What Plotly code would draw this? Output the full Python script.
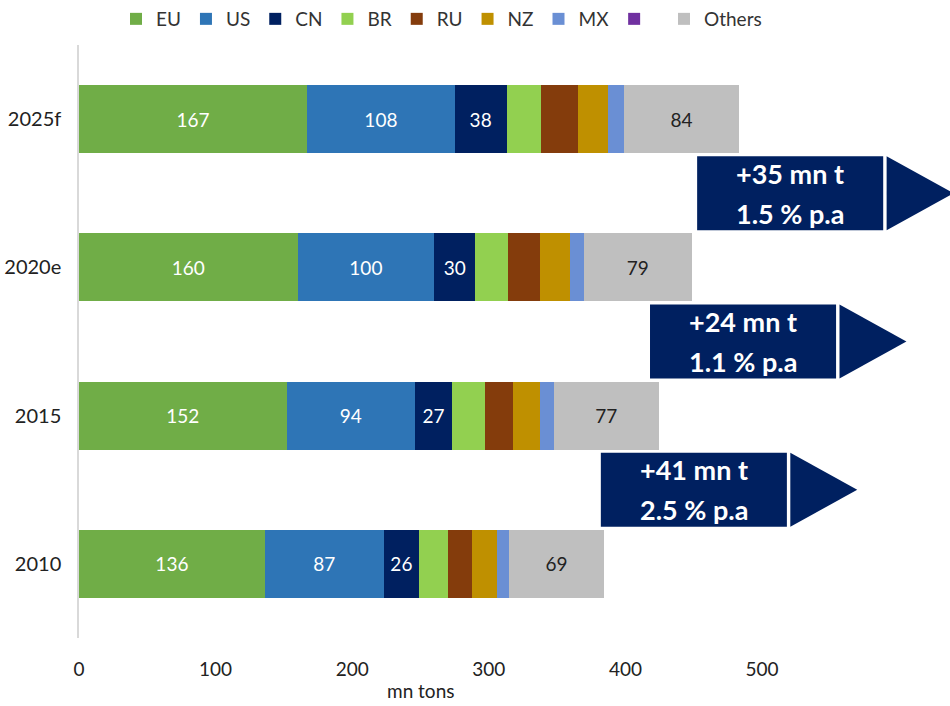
import plotly.graph_objects as go

years = ["2010", "2015", "2020e", "2025f"]
series_names = ["EU", "US", "CN", "BR", "RU", "NZ", "MX", " ", "Others"]
eu = [136, 152, 160, 167]
us = [87, 94, 100, 108]
cn = [26, 27, 30, 38]
br = [21, 24, 24, 25]
ru = [18, 20.5, 23.5, 27]
nz = [18, 20, 22, 22]
mx = [9, 10, 10, 12]
purple = [0, 0, 0, 0]
others = [69, 77, 79, 84]
labelled = {"EU", "US", "CN", "Others"}

growth_line1 = ["+41 mn t", "+24 mn t", "+35 mn t"]
growth_line2 = ["2.5 % p.a", "1.1 % p.a", "1.5 % p.a"]
growth_box_x0 = [382, 418, 452.5]   # left edge of each box (data units)
growth_pos = [0.5, 1.5, 2.5]          # between categories

colors = ["#70AD47", "#2E75B6", "#002060", "#92D050", "#843C0C", "#BF9000", "#6A8FD4", "#7030A0", "#BFBFBF"]
values = [eu, us, cn, br, ru, nz, mx, purple, others]
FONT = "Lato, 'Open Sans', sans-serif"

fig = go.Figure()
for name, vals, col in zip(series_names, values, colors):
    show = name in labelled
    fig.add_trace(go.Bar(
        y=years, x=vals, name=name, orientation="h",
        marker=dict(color=col, line=dict(width=0)),
        text=[f"{v:g}" for v in vals] if show else None,
        textposition="inside" if show else "none",
        insidetextanchor="middle", textangle=0,
        textfont=dict(size=19, color="#222222" if name == "Others" else "white", family=FONT),
        hoverinfo="x+name",
    ))

NAVY = "#002060"
box_w, tri_gap, tri_w, half_h = 136.2, 2.5, 49, 0.25
for l1, l2, x0, yc in zip(growth_line1, growth_line2, growth_box_x0, growth_pos):
    fig.add_shape(type="rect", xref="x", yref="y", x0=x0, x1=x0 + box_w,
                  y0=yc - half_h, y1=yc + half_h, fillcolor=NAVY, line=dict(width=0), layer="above")
    tx0 = x0 + box_w + tri_gap
    fig.add_shape(type="path", xref="x", yref="y",
                  path=f"M {tx0} {yc - half_h} L {tx0 + tri_w} {yc} L {tx0} {yc + half_h} Z",
                  fillcolor=NAVY, line=dict(width=0), layer="above")
    for txt, shift in ((l1, 20), (l2, -20)):
        fig.add_annotation(x=x0 + box_w / 2, y=yc, xref="x", yref="y", yshift=shift,
                           text=f"<b>{txt}</b>", showarrow=False,
                           font=dict(size=27, color="white", family=FONT))

fig.add_annotation(x=250, y=-0.5, xref="x", yref="y", yshift=-52, text="mn tons",
                   showarrow=False, font=dict(size=19, color="#222222", family=FONT))

fig.update_layout(
    barmode="stack", bargap=0.54,
    width=950, height=706,
    margin=dict(l=79, r=0, t=45, b=68),
    plot_bgcolor="white", paper_bgcolor="white",
    font=dict(family=FONT, size=19, color="#222222"),
    legend=dict(orientation="h", x=116 / 950, xanchor="left", y=1.0, yanchor="top",
                xref="container", yref="container", font=dict(size=19, color="#333333", family=FONT),
                traceorder="normal", tracegroupgap=0, itemwidth=30,
                bgcolor="rgba(0,0,0,0)"),
    xaxis=dict(range=[0, 637.6], tickvals=[0, 100, 200, 300, 400, 500], showgrid=False,
               zeroline=False, showline=False, ticks="outside", ticklen=14, tickcolor="rgba(0,0,0,0)",
               tickfont=dict(size=19)),
    yaxis=dict(categoryorder="array", categoryarray=years, range=[-0.5, 3.5],
               showline=True, linecolor="#D9D9D9", linewidth=1.5, showgrid=False,
               ticks="outside", ticklen=12, tickcolor="rgba(0,0,0,0)", tickfont=dict(size=20)),
)
fig.write_html("out.html")
